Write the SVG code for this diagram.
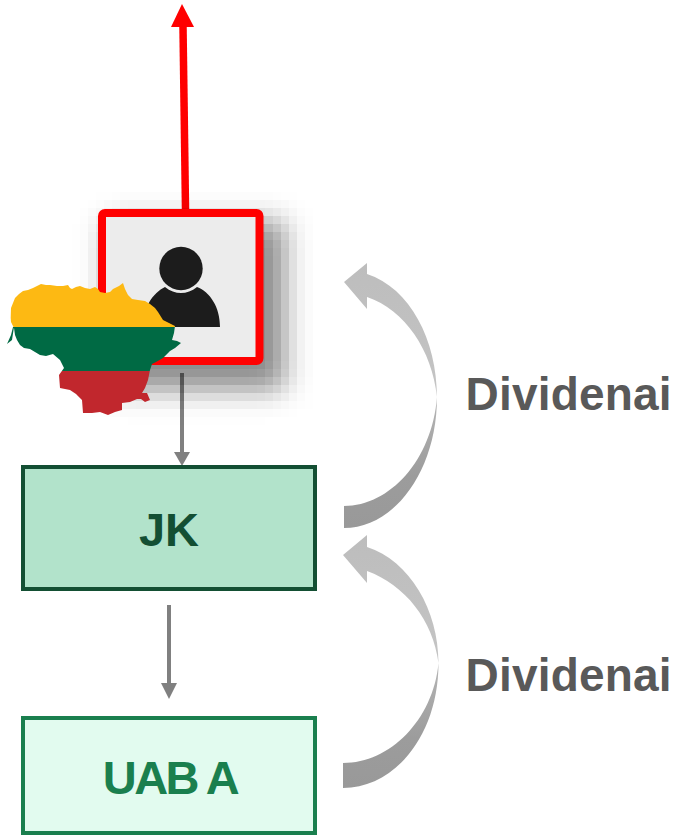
<svg xmlns="http://www.w3.org/2000/svg" width="683" height="835" viewBox="0 0 683 835">
<style>
.lbl{font-family:"Liberation Sans",Arial,sans-serif;font-weight:700;font-size:47px}
.div{fill:#595959;font-size:46px;letter-spacing:0.2px}
.grey{stroke:#808080;stroke-width:4;fill:none}
.greyh{fill:#808080}
</style>
<defs>
<linearGradient id="up" x1="0" y1="0" x2="0" y2="1"><stop offset="0" stop-color="#bdbdbd"/><stop offset="1" stop-color="#c4c4c4"/></linearGradient>
<linearGradient id="lo" x1="0" y1="0" x2="0" y2="1"><stop offset="0" stop-color="#b5b5b5"/><stop offset="0.6" stop-color="#9c9c9c"/><stop offset="1" stop-color="#999"/></linearGradient>
<filter id="pix" filterUnits="userSpaceOnUse" x="40" y="160" width="310" height="290" color-interpolation-filters="sRGB">
<feGaussianBlur stdDeviation="14" result="b"/>
<feFlood x="44" y="164" width="1" height="1" flood-color="#000"/>
<feComposite x="44" y="164" width="8" height="8"/>
<feTile result="t"/>
<feComposite in="b" in2="t" operator="in"/>
<feMorphology operator="dilate" radius="4"/>
</filter>
<clipPath id="lt"><path d="M10.700,318 L11,308 L13,303 L15,298 L19,294 L23,291 L28,290 L33,288 L37,286 L41,284 L46,285 L50,285 L57,286 L63,286 L68,285 L70,288 L72,289 L76,287 L80,286 L85,288 L90,289 L95,287 L98,289 L100,292 L105,293 L110,292 L113,289 L115,288 L119,286 L123,283 L125,289 L128,295 L132,299 L138,300 L145,301 L150,304 L155,308 L158,312 L163,320 L169,323 L175,326 L174,333 L172,340 L177,341 L181,343 L175,348 L170,351 L163,358 L156,362 L152,364 L150,370 L148,380 L145,388 L142,393 L147,393 L150,400 L145,402 L141,399 L137,399 L130,402 L122,403 L122,410 L115,412 L108,415 L100,412 L92,413 L83,413 L82,400 L76,394 L70,390 L60,388 L59,375 L64,368 L60,360 L53,354 L46,356 L40,355 L35,352 L30,349 L24,348 L20,345 L17,340 L15,335 L14,328 L11,322 Z M14,327 L12,340 L7,344 L11,335 L13,327 Z"/></clipPath>
</defs>
<g id="connectors">
<path d="M185.500,209 L183,27" stroke="#ff0000" stroke-width="7.500" fill="none"/>
<polygon points="182,4 194,27 171,27" fill="#ff0000"/>
<path class="grey" d="M182,373 V453"/><polygon class="greyh" points="174,452 190,452 182,466"/>
<path class="grey" d="M169,605 V684"/><polygon class="greyh" points="161,683 177,683 169,699"/>
<path fill="url(#up)" d="M344,282 L367,263 L367,274 C410,288 437,340 437,397 C432,350 405,310 367,297 L367,309 Z"/>
<path fill="url(#lo)" d="M437,397 C437,470 395,528 344,528 L344,506 C390,506 432,460 437,397 Z"/>
<path fill="url(#up)" d="M343,555 L367,535 L367,547 C410,561 438.500,610 438.500,663 C433,620 405,585 367,571 L367,583 Z"/>
<path fill="url(#lo)" d="M438.500,663 C438.500,735 395,788 343,788 L343,763 C390,763 433,720 438.500,663 Z"/>
</g>
<g id="person">
<rect x="108" y="222" width="176" height="167" fill="#000" fill-opacity="0.46" filter="url(#pix)"/>
<rect x="102" y="213" width="157.500" height="148" rx="3" fill="#ececec" stroke="#ff0000" stroke-width="8"/>
<circle cx="181" cy="268.500" r="21.700" fill="#1c1c1c"/>
<path d="M143,327 C143,307 153,293 165,287 C175,295 187,295 197,287 C210,292 220,307 220,327 Z" fill="#1c1c1c"/>
</g>
<g id="map" clip-path="url(#lt)">
<rect x="0" y="280" width="190" height="47" fill="#fdb913"/>
<rect x="0" y="327" width="190" height="44" fill="#006a44"/>
<rect x="0" y="371" width="190" height="50" fill="#c1272d"/>
</g>
<g id="jk">
<rect x="23" y="467" width="292" height="122" fill="#b2e3cb" stroke="#134f33" stroke-width="4"/>
<text class="lbl" x="169" y="546" text-anchor="middle" fill="#134f33">JK</text>
</g>
<g id="uab">
<rect x="23" y="718" width="292" height="115" fill="#e2fbef" stroke="#1a7f4e" stroke-width="4"/>
<text class="lbl" x="170" y="794" text-anchor="middle" fill="#1a7f4e" style="letter-spacing:-2.500px">UAB A</text>
</g>
<g id="labels">
<text class="lbl div" x="465.500" y="410">Dividenai</text>
<text class="lbl div" x="465.500" y="691">Dividenai</text>
</g>
</svg>
